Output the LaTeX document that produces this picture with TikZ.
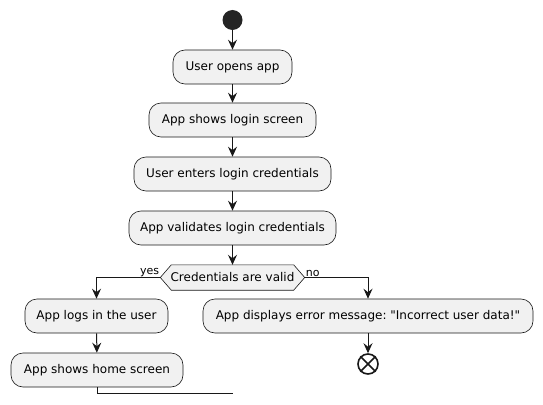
\documentclass[tikz,border=0pt]{standalone}
\usepackage{fontspec}
\setmainfont{DejaVu Sans}[Ligatures=ResetAll]
\usetikzlibrary{arrows.meta}
\definecolor{boxfill}{HTML}{F1F1F1}
\definecolor{ink}{HTML}{181818}
\newcommand\strq{\XeTeXglyph\XeTeXcharglyph"22\relax}
\frenchspacing
\begin{document}
\begin{tikzpicture}[x=1pt,y=-1pt,
  act/.style={draw=ink,fill=boxfill,rounded corners=12pt,line width=0.6pt,minimum height=34pt,inner sep=0pt,font=\fontsize{12}{14}\selectfont},
  flow/.style={draw=ink,line width=1pt,-{Stealth[length=10pt,width=9pt,inset=3.5pt]}},
  line/.style={draw=ink,line width=1pt},
  lbl/.style={font=\fontsize{11}{13}\selectfont,inner sep=1pt}]
\useasboundingbox (0,0) rectangle (543,404);
\node[circle,fill=ink!95!white,minimum size=20pt,inner sep=0pt] (s) at (232.5,20) {};
\node[act,minimum width=119pt] (b1) at (232.5,67) {User opens app};
\node[act,minimum width=167pt] (b2) at (232.5,120) {App shows login screen};
\node[act,minimum width=197pt] (b3) at (232.5,174) {User enters login credentials};
\node[act,minimum width=207pt] (b4) at (232.5,228) {App validates login credentials};
\node[minimum width=144pt,minimum height=25pt,inner sep=0pt] (dec) at (232.5,277.5) {};
\draw[draw=ink,fill=boxfill,line width=0.6pt] (dec.west) -- ([xshift=11pt]dec.north west) -- ([xshift=-11pt]dec.north east) -- (dec.east) -- ([xshift=-11pt]dec.south east) -- ([xshift=11pt]dec.south west) -- cycle;
\node[inner sep=0pt,font=\fontsize{12}{14}\selectfont] (dect) at (dec.center) {Credentials are valid};
\node[lbl,anchor=south east] (yes) at (dec.west) {yes};
\node[lbl,anchor=south west] (no) at (dec.east) {no};
\node[act,minimum width=143pt] (l1) at (96.5,316) {App logs in the user};
\node[act,minimum width=172pt] (l2) at (97,370) {App shows home screen};
\node[act,minimum width=330pt] (r1) at (368,316) {App displays error message: \strq Incorrect user data!\strq};
\node[circle,draw=ink,line width=1.6pt,minimum size=20pt,inner sep=0pt] (e) at (368,364) {};
\draw[ink,line width=1.6pt] (e.45) -- (e.225) (e.135) -- (e.315);
\coordinate (m) at (232.5,393);
\draw[flow] (s) -- (b1);
\draw[flow] (b1) -- (b2);
\draw[flow] (b2) -- (b3);
\draw[flow] (b3) -- (b4);
\draw[flow] (b4) -- (dec);
\draw[flow] (dec.west) -| (l1.north);
\draw[flow] (dec.east) -| (r1.north);
\draw[flow] (l1) -- (l2);
\draw[flow] (r1) -- (e);
\draw[line] (l2.south) |- (m);
\end{tikzpicture}
\end{document}
